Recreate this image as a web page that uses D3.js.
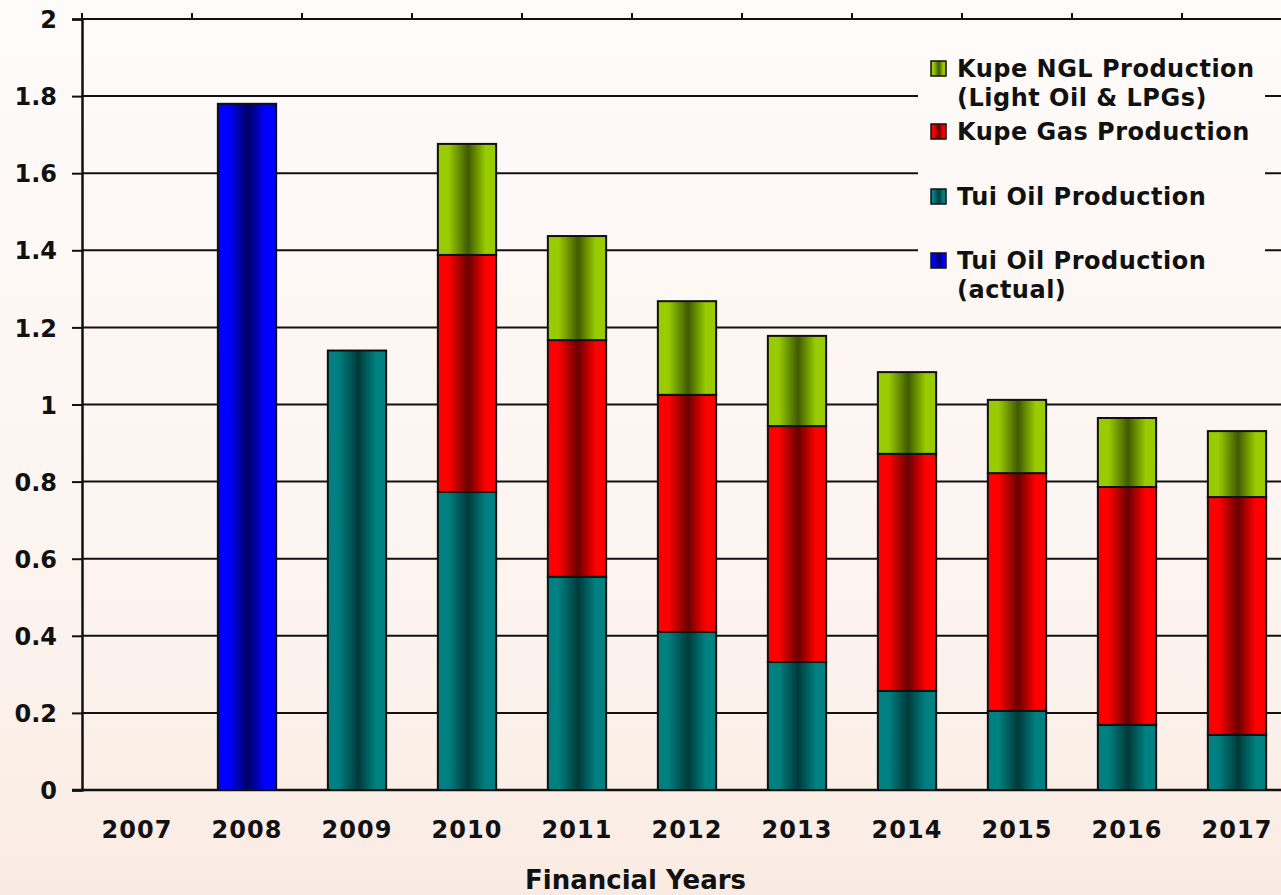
<!DOCTYPE html>
<html>
<head>
<meta charset="utf-8">
<script src="https://cdn.jsdelivr.net/npm/d3@7"></script>
<style>
  html, body { margin: 0; padding: 0; }
  body { width: 1281px; height: 895px; overflow: hidden; }
  svg { display: block; }
</style>
</head>
<body>
<svg id="chart" width="1281" height="895"></svg>
<script>
// ---- Data ----
const years = ["2007","2008","2009","2010","2011","2012","2013","2014","2015","2016","2017"];
const tuiActual = [0, 1.78, 0, 0, 0, 0, 0, 0, 0, 0, 0];
const tuiOil    = [0, 0, 1.14, 0.773, 0.553, 0.41, 0.332, 0.257, 0.205, 0.169, 0.143];
const kupeGas   = [0, 0, 0, 0.615, 0.614, 0.615, 0.612, 0.615, 0.617, 0.617, 0.617];
const kupeNGL   = [0, 0, 0, 0.288, 0.27, 0.243, 0.234, 0.212, 0.19, 0.179, 0.171];
const yTicks = [0, 0.2, 0.4, 0.6, 0.8, 1, 1.2, 1.4, 1.6, 1.8, 2];
const seriesKeys = ["tuiActual", "tuiOil", "kupeGas", "kupeNGL"];
const seriesColors = {
  tuiActual: ["#0000ff", "#000066"],
  tuiOil:    ["#008080", "#003a3a"],
  kupeGas:   ["#ff0000", "#6a0000"],
  kupeNGL:   ["#99cc00", "#3f5a00"]
};
const legendItems = [
  { key: "kupeNGL",   lines: ["Kupe NGL Production", "(Light Oil & LPGs)"], y: 77 },
  { key: "kupeGas",   lines: ["Kupe Gas Production"], y: 140 },
  { key: "tuiOil",    lines: ["Tui Oil Production"], y: 205 },
  { key: "tuiActual", lines: ["Tui Oil Production", "(actual)"], y: 269 }
];
const xTitle = "Financial Years";

// ---- Layout ----
const svg = d3.select("#chart");
const W = 1281, H = 895;
const plotL = 82, plotT = 19, plotB = 790, bandW = 110;
const plotR = plotL + years.length * bandW;
const font = "'DejaVu Sans', Verdana, sans-serif";

const defs = svg.append("defs");
const bg = defs.append("linearGradient").attr("id", "bg").attr("gradientUnits", "userSpaceOnUse")
  .attr("x1", 0).attr("y1", 0).attr("x2", 0).attr("y2", H);
bg.append("stop").attr("offset", "0%").attr("stop-color", "#fefbfa");
bg.append("stop").attr("offset", "70%").attr("stop-color", "#fcf3ee");
bg.append("stop").attr("offset", "100%").attr("stop-color", "#faebe2");

seriesKeys.forEach(k => {
  const [b, d] = seriesColors[k];
  const g = defs.append("linearGradient").attr("id", "g_" + k).attr("x1", 0).attr("y1", 0).attr("x2", 1).attr("y2", 0);
  g.append("stop").attr("offset", "0%").attr("stop-color", b);
  g.append("stop").attr("offset", "18%").attr("stop-color", b);
  g.append("stop").attr("offset", "52%").attr("stop-color", d);
  g.append("stop").attr("offset", "82%").attr("stop-color", b);
  g.append("stop").attr("offset", "100%").attr("stop-color", b);
});

svg.append("rect").attr("width", W).attr("height", H).attr("fill", "url(#bg)");

const x = d3.scaleBand().domain(years).range([plotL, plotR]).paddingInner(0.47).paddingOuter(0.235);
const xb = d3.scaleBand().domain(years).range([plotL, plotR]).padding(0);
const y = d3.scaleLinear().domain([0, 2]).range([plotB, plotT]);

// Gridlines
svg.append("g").selectAll("line").data(yTicks.filter(v => v > 0)).join("line")
  .attr("x1", plotL).attr("x2", plotR)
  .attr("y1", d => y(d)).attr("y2", d => y(d))
  .attr("stroke", "#111").attr("stroke-width", 2);

// Y axis
const yAxis = svg.append("g").attr("transform", `translate(${plotL},0)`)
  .call(d3.axisLeft(y).tickValues(yTicks).tickSize(10).tickPadding(15)
    .tickFormat(d => String(+d.toFixed(1))));
yAxis.select(".domain").attr("stroke", "#111").attr("stroke-width", 2.5);
yAxis.selectAll(".tick line").attr("stroke", "#111").attr("stroke-width", 2);
yAxis.selectAll("text").attr("font-family", font).attr("font-weight", "bold")
  .attr("font-size", 24).attr("fill", "#111").attr("dy", "0.36em");

// Top tick marks at category boundaries
const boundaries = years.map(d => xb(d)).concat([plotR]);
svg.append("g").selectAll("line").data(boundaries).join("line")
  .attr("x1", d => d).attr("x2", d => d).attr("y1", plotT - 6).attr("y2", plotT)
  .attr("stroke", "#111").attr("stroke-width", 2);

// X axis baseline
svg.append("line").attr("x1", plotL - 10).attr("x2", plotR).attr("y1", plotB).attr("y2", plotB)
  .attr("stroke", "#111").attr("stroke-width", 2.5);

// X labels
svg.append("g").selectAll("text").data(years).join("text")
  .attr("x", d => xb(d) + xb.bandwidth() / 2).attr("y", 838)
  .attr("text-anchor", "middle").attr("font-family", font).attr("font-weight", "bold")
  .attr("font-size", 24).attr("letter-spacing", 1).attr("fill", "#111").text(d => d);

svg.append("text").attr("x", 635.5).attr("y", 889).attr("text-anchor", "middle")
  .attr("font-family", font).attr("font-weight", "bold").attr("font-size", 26)
  .attr("fill", "#111").text(xTitle);

// Stacked bars
const rows = years.map((yr, i) => ({ year: yr, tuiActual: tuiActual[i], tuiOil: tuiOil[i], kupeGas: kupeGas[i], kupeNGL: kupeNGL[i] }));
const stacked = d3.stack().keys(seriesKeys)(rows);
const barsG = svg.append("g");
stacked.forEach(s => {
  barsG.append("g").selectAll("rect").data(s.filter(d => d[1] - d[0] > 0)).join("rect")
    .attr("x", d => x(d.data.year)).attr("width", x.bandwidth())
    .attr("y", d => y(d[1])).attr("height", d => y(d[0]) - y(d[1]))
    .attr("fill", "url(#g_" + s.key + ")")
    .attr("stroke", "#111").attr("stroke-width", 2);
});

// Legend
const lg = svg.append("g");
lg.append("rect").attr("x", 918).attr("y", 50).attr("width", 347).attr("height", 262).attr("fill", "url(#bg)");
legendItems.forEach(it => {
  lg.append("rect").attr("x", 931).attr("y", it.y - 16).attr("width", 15).attr("height", 15)
    .attr("fill", "url(#g_" + it.key + ")").attr("stroke", "#111").attr("stroke-width", 1.5);
  it.lines.forEach((ln, j) => {
    lg.append("text").attr("x", 957).attr("y", it.y + j * 29)
      .attr("font-family", font).attr("font-weight", "bold").attr("font-size", 24)
      .attr("letter-spacing", 0.5).attr("fill", "#111").text(ln);
  });
});
</script>
</body>
</html>
